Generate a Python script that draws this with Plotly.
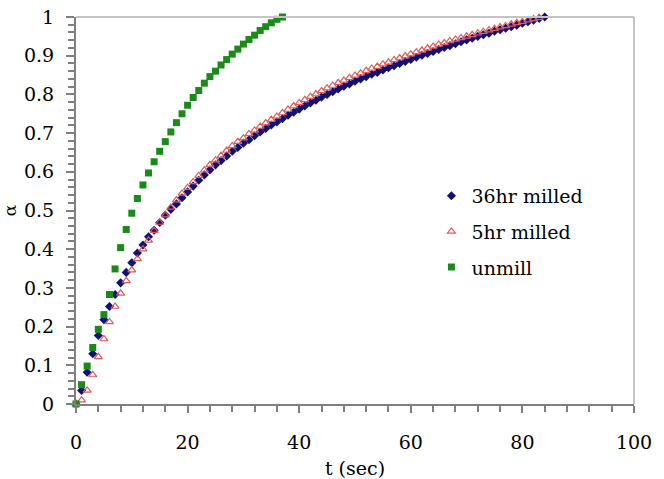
import plotly.graph_objects as go

# time (sec)
t_36hr = list(range(0, 85))
t_5hr = list(range(0, 84))
t_unmill = list(range(0, 38))

alpha_36hr = [
    0.000, 0.035, 0.082, 0.130, 0.177, 0.218, 0.252, 0.283, 0.313, 0.340,
    0.365, 0.390, 0.411, 0.432, 0.449, 0.469, 0.488, 0.503, 0.517, 0.533,
    0.548, 0.563, 0.578, 0.592, 0.605, 0.618, 0.629, 0.641, 0.653, 0.663,
    0.674, 0.683, 0.693, 0.703, 0.712, 0.721, 0.729, 0.737, 0.746, 0.754,
    0.762, 0.770, 0.778, 0.785, 0.793, 0.800, 0.807, 0.814, 0.821, 0.827,
    0.834, 0.840, 0.846, 0.852, 0.857, 0.863, 0.869, 0.874, 0.880, 0.885,
    0.890, 0.896, 0.901, 0.906, 0.911, 0.916, 0.921, 0.926, 0.931, 0.936,
    0.941, 0.945, 0.950, 0.954, 0.958, 0.963, 0.967, 0.971, 0.975, 0.979,
    0.984, 0.988, 0.992, 0.996, 1.000,
]

alpha_5hr = [
    0.000, 0.010, 0.035, 0.075, 0.122, 0.168, 0.212, 0.252, 0.286, 0.318,
    0.346, 0.375, 0.400, 0.423, 0.448, 0.469, 0.488, 0.508, 0.527, 0.544,
    0.559, 0.574, 0.590, 0.604, 0.618, 0.630, 0.642, 0.655, 0.667, 0.678,
    0.687, 0.698, 0.707, 0.717, 0.726, 0.735, 0.743, 0.752, 0.761, 0.770,
    0.778, 0.786, 0.794, 0.801, 0.809, 0.816, 0.823, 0.830, 0.836, 0.843,
    0.849, 0.855, 0.861, 0.867, 0.872, 0.878, 0.883, 0.889, 0.894, 0.899,
    0.904, 0.909, 0.914, 0.919, 0.924, 0.929, 0.933, 0.938, 0.942, 0.946,
    0.950, 0.954, 0.958, 0.962, 0.966, 0.970, 0.974, 0.977, 0.981, 0.985,
    0.988, 0.992, 0.995, 0.998,
]

alpha_unmill = [
    0.000, 0.050, 0.098, 0.146, 0.193, 0.231, 0.283, 0.349, 0.404, 0.451,
    0.493, 0.531, 0.566, 0.597, 0.626, 0.653, 0.678, 0.703, 0.727, 0.750,
    0.772, 0.792, 0.810, 0.829, 0.846, 0.860, 0.876, 0.890, 0.904, 0.917,
    0.930, 0.942, 0.953, 0.965, 0.975, 0.985, 0.994, 1.000,
]

FONT = "DejaVu Serif"

fig = go.Figure()
fig.add_trace(go.Scatter(
    x=t_36hr, y=alpha_36hr, mode="markers", name="36hr milled",
    legendgroup="a",
    marker=dict(symbol="diamond", size=7, color="#101075"),
    cliponaxis=False,
))
fig.add_trace(go.Scatter(
    x=t_5hr, y=alpha_5hr, mode="markers", name="5hr milled",
    legendgroup="b",
    marker=dict(symbol="triangle-up-open", size=7, color="#e05a5a",
                line=dict(width=1.2, color="#e05a5a")),
    cliponaxis=False,
))
fig.add_trace(go.Scatter(
    x=t_unmill, y=alpha_unmill, mode="markers", name="unmill",
    legendgroup="c",
    marker=dict(symbol="square", size=7, color="#1a8a1a"),
    cliponaxis=False,
))

fig.update_layout(
    width=664, height=479,
    margin=dict(l=76, r=30, t=17, b=75, autoexpand=False),
    paper_bgcolor="white", plot_bgcolor="white",
    font=dict(family=FONT, size=19, color="black"),
    showlegend=True,
    legend=dict(
        x=0.637, y=0.587, xanchor="left", yanchor="top",
        bgcolor="rgba(0,0,0,0)", borderwidth=0,
        font=dict(family=FONT, size=19),
        traceorder="grouped", tracegroupgap=8,
    ),
    xaxis=dict(
        range=[0, 100], dtick=20, tick0=0, automargin=False,
        showgrid=False, zeroline=False,
        showline=True, linecolor="#7f7f7f", linewidth=2,
        ticks="outside", ticklen=7, tickwidth=1.5, tickcolor="#7f7f7f",
        minor=dict(dtick=4, ticks="outside", ticklen=6, tickwidth=1.5, tickcolor="#7f7f7f"),
        ticklabelstandoff=13,
        tickfont=dict(family=FONT, size=19),
        title=dict(text="t (sec)", font=dict(family=FONT, size=19), standoff=12),
    ),
    yaxis=dict(
        range=[0, 1], dtick=0.1, tick0=0, automargin=False,
        showgrid=False, zeroline=False,
        showline=True, linecolor="#7f7f7f", linewidth=2,
        ticks="outside", ticklen=8, tickwidth=1.5, tickcolor="#7f7f7f",
        minor=dict(dtick=0.02, ticks="outside", ticklen=6, tickwidth=1.5, tickcolor="#7f7f7f"),
        ticklabelstandoff=8,
        tickfont=dict(family=FONT, size=19),
        title=dict(text="α", font=dict(family=FONT, size=17), standoff=6),
    ),
    shapes=[
        dict(type="line", xref="paper", yref="paper", x0=0, x1=1, y0=1, y1=1,
             line=dict(color="#c4c4c4", width=2)),
        dict(type="line", xref="paper", yref="paper", x0=1, x1=1, y0=0, y1=1,
             line=dict(color="#c4c4c4", width=2)),
    ],
)

fig.write_html("out.html")
